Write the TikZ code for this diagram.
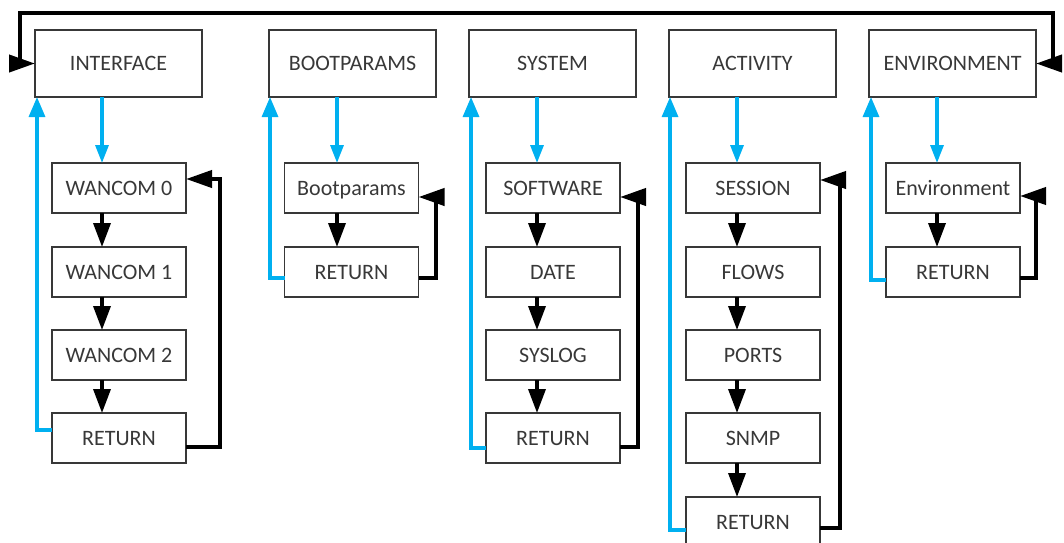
\documentclass[tikz,border=0pt]{standalone}
\usepackage{fontspec}
\setmainfont{Carlito}
\usetikzlibrary{arrows.meta,calc}
\definecolor{cblue}{RGB}{0,176,240}
\definecolor{txt}{RGB}{56,56,56}
\begin{document}
\begin{tikzpicture}[x=1pt,y=-1pt,
  topbox/.style={draw=txt,line width=1.1pt,minimum width=167pt,minimum height=67pt,
    inner sep=0pt,outer sep=0pt,text=txt,text height=14pt,text depth=0pt,
    font=\fontsize{22}{25}\selectfont},
  subbox/.style={topbox,minimum width=134pt,minimum height=50pt},
  blu/.style={draw=cblue,line width=3.2pt},
  bludn/.style={blu,-{Triangle[length=18pt,width=13pt]}},
  bluup/.style={blu,-{Triangle[length=20pt,width=16pt]}},
  dn/.style={draw=black,line width=3.5pt,-{Triangle[length=24pt,width=17pt]}},
  ret/.style={draw=black,line width=4pt,-{Triangle[length=26pt,width=17pt]}},
  loopline/.style={draw=black,line width=4pt,{Triangle[length=26pt,width=17pt]}-{Triangle[length=26pt,width=17pt]}}
]
\useasboundingbox (0,0) rectangle (1064,542);
\clip (0,0) rectangle (1064,542);

% top boxes
\node[topbox] (t1) at (118.5,63.5) {INTERFACE};
\node[topbox] (t2) at (352.5,63.5) {BOOTPARAMS};
\node[topbox] (t3) at (552.5,63.5) {SYSTEM};
\node[topbox] (t4) at (752.5,63.5) {ACTIVITY};
\node[topbox] (t5) at (952.5,63.5) {ENVIRONMENT};

% column 1
\node[subbox] (s11) at (119,188) {WANCOM 0};
\node[subbox] (s12) at (119,272) {WANCOM 1};
\node[subbox] (s13) at (119,355) {WANCOM 2};
\node[subbox] (s14) at (119,438) {RETURN};
% column 2
\node[subbox] (s21) at (351.5,188) {Bootparams};
\node[subbox] (s22) at (351.5,272) {RETURN};
% column 3
\node[subbox] (s31) at (553,188) {SOFTWARE};
\node[subbox] (s32) at (553,272) {DATE};
\node[subbox] (s33) at (553,355) {SYSLOG};
\node[subbox] (s34) at (553,438) {RETURN};
% column 4
\node[subbox] (s41) at (753,188) {SESSION};
\node[subbox] (s42) at (753,272) {FLOWS};
\node[subbox] (s43) at (753,355) {PORTS};
\node[subbox] (s44) at (753,438) {SNMP};
\node[subbox] (s45) at (753,522) {RETURN};
% column 5
\node[subbox] (s51) at (953,188) {Environment};
\node[subbox] (s52) at (953,272) {RETURN};

% arrow axes
\coordinate (a1) at (102,0);
\coordinate (a2) at (337,0);
\coordinate (a3) at (537,0);
\coordinate (a4) at (737,0);
\coordinate (a5) at (937,0);
\coordinate (topL) at (20,13);
\coordinate (topR) at (1053,13);

% blue down arrows
\draw[bludn] (t1.south -| a1) -- (s11.north -| a1);
\draw[bludn] (t2.south -| a2) -- (s21.north -| a2);
\draw[bludn] (t3.south -| a3) -- (s31.north -| a3);
\draw[bludn] (t4.south -| a4) -- (s41.north -| a4);
\draw[bludn] (t5.south -| a5) -- (s51.north -| a5);

% black down arrows
\draw[dn] (s11.south -| a1) -- (s12.north -| a1);
\draw[dn] (s12.south -| a1) -- (s13.north -| a1);
\draw[dn] (s13.south -| a1) -- (s14.north -| a1);
\draw[dn] (s21.south -| a2) -- (s22.north -| a2);
\draw[dn] (s31.south -| a3) -- (s32.north -| a3);
\draw[dn] (s32.south -| a3) -- (s33.north -| a3);
\draw[dn] (s33.south -| a3) -- (s34.north -| a3);
\draw[dn] (s41.south -| a4) -- (s42.north -| a4);
\draw[dn] (s42.south -| a4) -- (s43.north -| a4);
\draw[dn] (s43.south -| a4) -- (s44.north -| a4);
\draw[dn] (s44.south -| a4) -- (s45.north -| a4);
\draw[dn] (s51.south -| a5) -- (s52.north -| a5);

% blue returns
\draw[bluup] ($(s14.west)+(0,-8)$) -| ($(t1.south west)+(2,0)$);
\draw[bluup] ($(s22.west)+(0,6)$) -| ($(t2.south west)+(1,0)$);
\draw[bluup] ($(s34.west)+(0,10)$) -| ($(t3.south west)+(2,0)$);
\draw[bluup] ($(s45.west)+(0,8)$) -| ($(t4.south west)+(1,0)$);
\draw[bluup] ($(s52.west)+(0,8)$) -| ($(t5.south west)+(2,0)$);

% black returns
\draw[ret] ($(s14.east)+(0,9)$) -| ($(s11.east)+(34,-9)$) -- ($(s11.east)+(0,-9)$);
\draw[ret] ($(s22.east)+(0,6)$) -| ($(s21.east)+(17,9)$) -- ($(s21.east)+(0,9)$);
\draw[ret] ($(s34.east)+(0,9)$) -| ($(s31.east)+(18,9)$) -- ($(s31.east)+(0,9)$);
\draw[ret] ($(s45.east)+(0,6)$) -| ($(s41.east)+(20,-8)$) -- ($(s41.east)+(0,-8)$);
\draw[ret] ($(s52.east)+(0,6)$) -| ($(s51.east)+(16,8)$) -- ($(s51.east)+(0,8)$);

% top loop
\draw[loopline] (t1.west) -| (topL) -- (topR) |- (t5.east);
\end{tikzpicture}
\end{document}
